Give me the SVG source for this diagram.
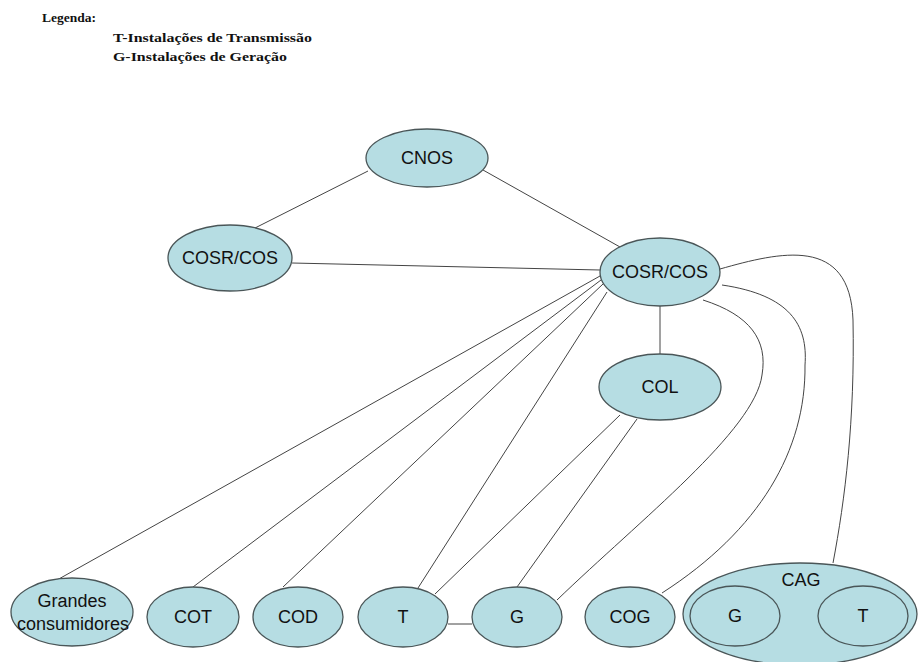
<svg xmlns="http://www.w3.org/2000/svg" width="920" height="662" viewBox="0 0 920 662">
<style>
.n{fill:#b6dde3;stroke:#4a5658;stroke-width:1.3}
.t{font-family:"Liberation Sans",Arial,sans-serif;font-size:18px;fill:#111;text-anchor:middle}
.lg{font-family:"Liberation Serif","Times New Roman",serif;font-size:13.5px;font-weight:bold;fill:#111}
.c{fill:none;stroke:#444;stroke-width:1}
</style>
<rect width="920" height="662" fill="#fff"/>
<g id="legend">
<text class="lg" x="42" y="22">Legenda:</text>
<text class="lg" x="113" y="42" textLength="199" lengthAdjust="spacingAndGlyphs">T-Instalações de Transmissão</text>
<text class="lg" x="113" y="61" textLength="174" lengthAdjust="spacingAndGlyphs">G-Instalações de Geração</text>
</g>
<g id="connectors">
<line class="c" x1="368" y1="171" x2="255" y2="228"/>
<line class="c" x1="483" y1="170" x2="620" y2="247"/>
<line class="c" x1="292" y1="263" x2="600" y2="270"/>
<line class="c" x1="600" y1="276" x2="57" y2="580"/>
<line class="c" x1="601" y1="280" x2="193" y2="587"/>
<line class="c" x1="603" y1="284" x2="283" y2="587"/>
<line class="c" x1="607" y1="292" x2="418" y2="588"/>
<line class="c" x1="660" y1="306" x2="660" y2="354"/>
<line class="c" x1="620" y1="415" x2="435" y2="594"/>
<line class="c" x1="637" y1="419" x2="517" y2="587"/>
<line class="c" x1="448" y1="624" x2="472" y2="624"/>
<path class="c" d="M703,300 C750,315 768,340 762,375 C755,430 640,520 557,600"/>
<path class="c" d="M722,285 C790,295 808,325 805,365 C806,450 760,530 662,593"/>
<path class="c" d="M720,269 C780,252 850,235 853,320 C855,420 845,500 833,563"/>
</g>
<g id="cnos"><ellipse class="n" cx="427" cy="158" rx="61" ry="29"/><text class="t" x="427" y="164">CNOS</text></g>
<g id="cosr-left"><ellipse class="n" cx="230" cy="258" rx="62" ry="33"/><text class="t" x="230" y="264">COSR/COS</text></g>
<g id="cosr-right"><ellipse class="n" cx="660" cy="272" rx="60" ry="34"/><text class="t" x="660" y="278">COSR/COS</text></g>
<g id="col"><ellipse class="n" cx="660" cy="387" rx="61" ry="33"/><text class="t" x="660" y="393">COL</text></g>
<g id="grandes"><ellipse class="n" cx="72" cy="612" rx="61" ry="34"/><text class="t" x="72" y="607">Grandes</text><text class="t" x="73" y="630">consumidores</text></g>
<g id="cot"><ellipse class="n" cx="193" cy="617" rx="46" ry="30"/><text class="t" x="193" y="623">COT</text></g>
<g id="cod"><ellipse class="n" cx="298" cy="617" rx="45" ry="30"/><text class="t" x="298" y="623">COD</text></g>
<g id="t"><ellipse class="n" cx="403" cy="617" rx="45" ry="30"/><text class="t" x="403" y="623">T</text></g>
<g id="g"><ellipse class="n" cx="517" cy="617" rx="45" ry="30"/><text class="t" x="517" y="623">G</text></g>
<g id="cog"><ellipse class="n" cx="630" cy="617" rx="45" ry="30"/><text class="t" x="630" y="623">COG</text></g>
<g id="cag">
<ellipse class="n" cx="800" cy="614" rx="117" ry="51"/>
<text class="t" x="801" y="586">CAG</text>
<g id="cag-g"><ellipse class="n" cx="735" cy="616" rx="45" ry="30"/><text class="t" x="735" y="622">G</text></g>
<g id="cag-t"><ellipse class="n" cx="863" cy="616" rx="45" ry="30"/><text class="t" x="863" y="622">T</text></g>
</g>
</svg>
